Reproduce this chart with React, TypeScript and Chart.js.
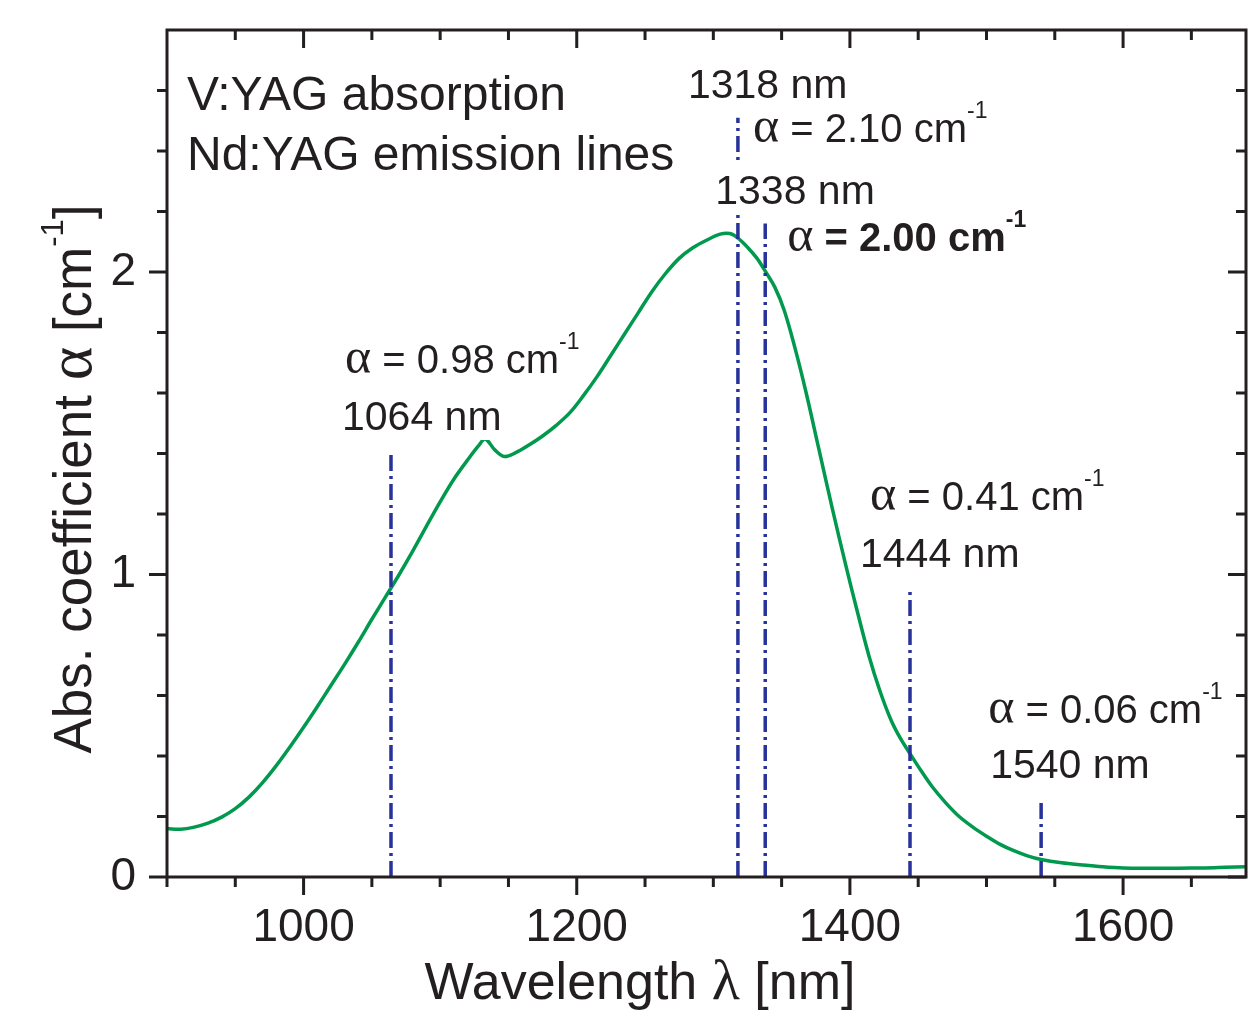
import React, { useEffect, useRef } from 'react';
import { Chart, registerables } from 'chart.js';

Chart.register(...registerables);

// ---------------- data ----------------
const wavelengthNm = [
  900, 910, 920, 930, 940, 950, 960, 970, 980, 990,
  1000, 1010, 1020, 1030, 1040, 1050, 1060, 1070, 1080, 1090,
  1100, 1110, 1120, 1128, 1133, 1140, 1147, 1155, 1165, 1175,
  1185, 1195, 1205, 1215, 1225, 1235, 1245, 1255, 1265, 1275,
  1285, 1295, 1305, 1312, 1318, 1325, 1332, 1338, 1345, 1352,
  1360, 1368, 1377, 1387, 1397, 1405, 1414, 1422, 1430, 1437,
  1444, 1452, 1460, 1470, 1480, 1490, 1500, 1510, 1520, 1530,
  1540, 1555, 1570, 1585, 1600, 1620, 1640, 1660, 1675, 1690,
];
const absCoeff = [
  0.160, 0.158, 0.165, 0.178, 0.198, 0.226, 0.264, 0.312, 0.368, 0.430,
  0.495, 0.563, 0.633, 0.703, 0.776, 0.852, 0.926, 1.000, 1.078, 1.160,
  1.240, 1.315, 1.378, 1.425, 1.448, 1.412, 1.390, 1.402, 1.428, 1.458,
  1.493, 1.535, 1.592, 1.655, 1.725, 1.795, 1.865, 1.935, 1.995, 2.045,
  2.080, 2.105, 2.125, 2.127, 2.112, 2.082, 2.045, 2.003, 1.950, 1.872,
  1.745, 1.600, 1.420, 1.220, 1.030, 0.885, 0.730, 0.615, 0.520, 0.458,
  0.408, 0.352, 0.300, 0.246, 0.200, 0.165, 0.135, 0.108, 0.087, 0.070,
  0.058, 0.047, 0.040, 0.034, 0.030, 0.029, 0.029, 0.030, 0.032, 0.034,
];

const emissionLinesNm = [1064, 1318, 1338, 1444, 1540];
const emissionAlpha = ['0.98', '2.10', '2.00', '0.41', '0.06'];
const emissionLineTop = [1.405, 2.51, 2.16, 0.955, 0.255];

const xTickLabels = [1000, 1200, 1400, 1600];
const yTickLabels = [0, 1, 2];
const legendLines = ['V:YAG absorption', 'Nd:YAG emission lines'];
const xTitle = 'Wavelength';
const yTitle = 'Abs. coefficient';

// ---------------- styles ----------------
const GREEN = '#00994d';
const NAVY = '#27329a';
const INK = '#231f20';
const SANS = '"Liberation Sans", Arial, sans-serif';
const SERIF = '"Liberation Serif", "Times New Roman", serif';

// label layout relative to each emission line (pixels)
const labelLayout = [
  { nmDx: -49, nmDy: -22, aDx: -46, aDy: -79, bold: false },
  { nmDx: -50, nmDy: -20, aDx: 15, aDy: 24, bold: false },
  { nmDx: -50, nmDy: -20, aDx: 22, aDy: 27, bold: true },
  { nmDx: -50, nmDy: -21, aDx: -40, aDy: -78, bold: false },
  { nmDx: -51, nmDy: -22, aDx: -53, aDy: -77, bold: false },
];

type Run = { text: string; font: string; dy?: number };

function runsWidth(ctx: CanvasRenderingContext2D, runs: Run[]) {
  let w = 0;
  for (const r of runs) {
    ctx.font = r.font;
    w += ctx.measureText(r.text).width;
  }
  return w;
}

function drawRuns(ctx: CanvasRenderingContext2D, runs: Run[], x: number, y: number) {
  let cx = x;
  ctx.textAlign = 'left';
  ctx.textBaseline = 'alphabetic';
  for (const r of runs) {
    ctx.font = r.font;
    ctx.fillText(r.text, cx, y + (r.dy || 0));
    cx += ctx.measureText(r.text).width;
  }
}

function alphaRuns(val: string, size: number, bold: boolean): Run[] {
  const sup = Math.round(size * 0.58);
  const w = bold ? 'bold ' : '';
  return [
    { text: '\u03B1', font: `${Math.round(size * 1.25)}px ${SERIF}` },
    { text: ' = ' + val + ' cm', font: `${w}${size}px ${SANS}` },
    { text: '-1', font: `${w}${sup}px ${SANS}`, dy: -Math.round(size * 0.6) },
  ];
}

const framePlugin = {
  id: 'frameTicks',
  afterDatasetsDraw(chart: any) {
    const { ctx, chartArea } = chart;
    const { left, right, top, bottom } = chartArea;
    const xs = chart.scales.x;
    const ys = chart.scales.y;
    ctx.save();
    ctx.strokeStyle = INK;
    ctx.lineWidth = 3;
    ctx.lineCap = 'butt';
    ctx.strokeRect(left, top, right - left, bottom - top);
    const MAJ = 18;
    const MIN = 10;
    ctx.beginPath();
    for (const t of xs.ticks) {
      const v = t.value;
      if (Math.abs(v / 50 - Math.round(v / 50)) > 1e-6) continue;
      const px = xs.getPixelForValue(v);
      const len = xTickLabels.includes(v) ? MAJ : MIN;
      ctx.moveTo(px, bottom);
      ctx.lineTo(px, bottom + len);
      if (px > left + 2 && px < right - 2) {
        ctx.moveTo(px, top);
        ctx.lineTo(px, top + len);
      }
    }
    for (const t of ys.ticks) {
      const v = t.value;
      const py = ys.getPixelForValue(v);
      if (py < top + 2) continue;
      const major = yTickLabels.some((k) => Math.abs(k - v) < 1e-6);
      const len = major ? MAJ : MIN;
      ctx.moveTo(left, py);
      ctx.lineTo(left - len, py);
      ctx.moveTo(right, py);
      ctx.lineTo(right - len, py);
    }
    ctx.stroke();
    ctx.restore();
  },
  afterDraw(chart: any) {
    const { ctx } = chart;
    const xs = chart.scales.x;
    const ys = chart.scales.y;
    ctx.save();
    ctx.fillStyle = INK;

    legendLines.forEach((s, i) => {
      drawRuns(ctx, [{ text: s, font: `48px ${SANS}` }], 187, 110 + i * 60);
    });

    emissionLinesNm.forEach((nm, i) => {
      const lx = xs.getPixelForValue(nm);
      const ty = ys.getPixelForValue(emissionLineTop[i]);
      const L = labelLayout[i];
      const nmRuns: Run[] = [{ text: `${nm} nm`, font: `41px ${SANS}` }];
      const bx = lx + L.nmDx;
      const by = ty + L.nmDy;
      const w = runsWidth(ctx, nmRuns);
      ctx.fillStyle = '#ffffff';
      ctx.fillRect(bx - 2, by - 42, w + 4, 52);
      ctx.fillStyle = INK;
      drawRuns(ctx, nmRuns, bx, by);
      drawRuns(ctx, alphaRuns(emissionAlpha[i], 40, L.bold), lx + L.aDx, ty + L.aDy);
    });

    const xr: Run[] = [
      { text: xTitle + ' ', font: `52px ${SANS}` },
      { text: '\u03BB', font: `58px ${SERIF}` },
      { text: ' [nm]', font: `52px ${SANS}` },
    ];
    const xw = runsWidth(ctx, xr);
    drawRuns(ctx, xr, 640 - xw / 2, 999);

    const yr: Run[] = [
      { text: yTitle + ' ', font: `53px ${SANS}` },
      { text: '\u03B1', font: `64px ${SERIF}` },
      { text: ' [cm', font: `53px ${SANS}` },
      { text: '-1', font: `31px ${SANS}`, dy: -28 },
      { text: ']', font: `53px ${SANS}` },
    ];
    const yw = runsWidth(ctx, yr);
    ctx.translate(91, 479);
    ctx.rotate(-Math.PI / 2);
    drawRuns(ctx, yr, -yw / 2, 0);
    ctx.restore();
  },
};

export default function App() {
  const ref = useRef<HTMLCanvasElement | null>(null);
  useEffect(() => {
    document.body.style.margin = '0';
    const canvas = ref.current!;
    const datasets: any[] = [
      {
        label: 'V:YAG absorption',
        data: wavelengthNm.map((x, i) => ({ x, y: absCoeff[i] })),
        borderColor: GREEN,
        borderWidth: 3.5,
        pointRadius: 0,
        tension: 0.35,
        order: 2,
      },
      ...emissionLinesNm.map((nm, i) => ({
        label: `${nm} nm`,
        data: [
          { x: nm, y: 0 },
          { x: nm, y: emissionLineTop[i] },
        ],
        borderColor: NAVY,
        borderWidth: 3.5,
        borderDash: [16, 5, 3, 5],
        pointRadius: 0,
        order: 1,
      })),
    ];
    const chart = new Chart(canvas, {
      type: 'line',
      data: { datasets },
      options: {
        animation: false,
        responsive: false,
        devicePixelRatio: 1,
        layout: { padding: { top: 30, right: 12, left: 0, bottom: 0 } },
        plugins: { legend: { display: false }, tooltip: { enabled: false } },
        scales: {
          x: {
            type: 'linear',
            min: 900,
            max: 1690,
            grid: { display: false, drawTicks: false },
            border: { display: false },
            ticks: {
              stepSize: 50,
              includeBounds: false,
              autoSkip: false,
              maxRotation: 0,
              padding: 24,
              color: INK,
              font: { family: SANS, size: 46 },
              callback: (v: any) => (xTickLabels.includes(Number(v)) ? String(v) : ''),
            },
            afterFit: (s: any) => {
              s.height = 136;
              s.paddingLeft = 0;
              s.paddingRight = 0;
            },
          },
          y: {
            type: 'linear',
            min: 0,
            max: 2.8,
            grid: { display: false, drawTicks: false },
            border: { display: false },
            ticks: {
              stepSize: 0.2,
              autoSkip: false,
              padding: 31,
              color: INK,
              font: { family: SANS, size: 46 },
              callback: (v: any) => {
                const n = Number(v);
                const k = yTickLabels.find((t) => Math.abs(t - n) < 1e-6);
                return k === undefined ? '' : String(k);
              },
            },
            afterFit: (s: any) => {
              s.width = 167;
              s.paddingTop = 0;
              s.paddingBottom = 0;
            },
          },
        },
      } as any,
      plugins: [framePlugin],
    });
    return () => chart.destroy();
  }, []);
  return (
    <div style={{ position: 'absolute', left: 0, top: 0, width: 1258, height: 1013, background: '#fff' }}>
      <canvas ref={ref} width={1258} height={1013} style={{ display: 'block' }} />
    </div>
  );
}
